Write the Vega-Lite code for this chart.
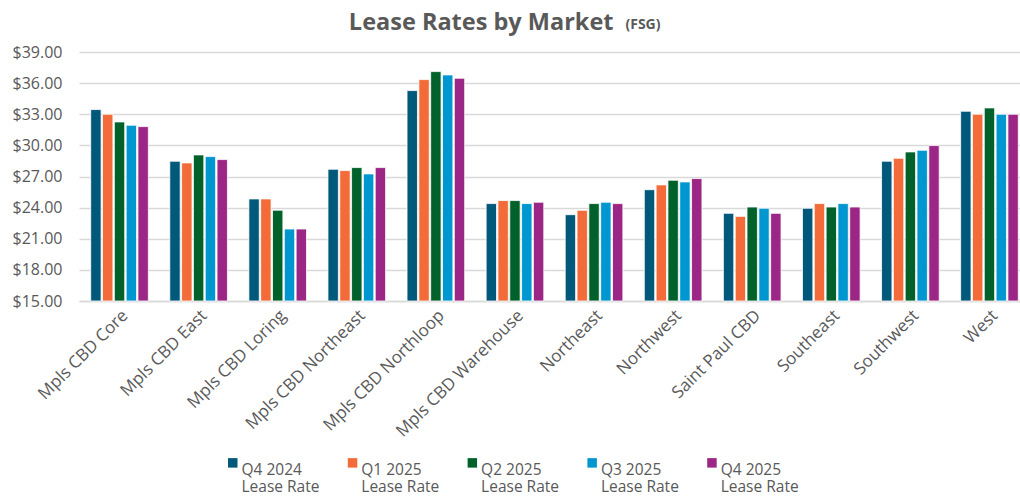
{
  "$schema": "https://vega.github.io/schema/vega-lite/v6.json",
  "padding": {"left": 12, "top": 10, "right": 0, "bottom": 0},
  "width": 951,
  "height": 249,
  "background": "white",
  "title": {
    "text": "Lease Rates by Market\u2003\u2003\u200b",
    "subtitle": "(FSG)",
    "font": "Open Sans",
    "fontSize": 23.5,
    "fontWeight": "bold",
    "color": "#595959",
    "subtitleFont": "Open Sans",
    "subtitleFontSize": 14,
    "subtitleFontWeight": "bold",
    "subtitleColor": "#595959",
    "subtitlePadding": -16,
    "anchor": "middle",
    "align": "right",
    "dx": 106,
    "offset": 10
  },
  "data": {
    "values": [
      {"market": "Mpls CBD Core", "quarter": "Q4 2024", "rate": 33.45},
      {"market": "Mpls CBD Core", "quarter": "Q1 2025", "rate": 33.0},
      {"market": "Mpls CBD Core", "quarter": "Q2 2025", "rate": 32.26},
      {"market": "Mpls CBD Core", "quarter": "Q3 2025", "rate": 31.94},
      {"market": "Mpls CBD Core", "quarter": "Q4 2025", "rate": 31.81},
      {"market": "Mpls CBD East", "quarter": "Q4 2024", "rate": 28.47},
      {"market": "Mpls CBD East", "quarter": "Q1 2025", "rate": 28.31},
      {"market": "Mpls CBD East", "quarter": "Q2 2025", "rate": 29.08},
      {"market": "Mpls CBD East", "quarter": "Q3 2025", "rate": 28.92},
      {"market": "Mpls CBD East", "quarter": "Q4 2025", "rate": 28.63},
      {"market": "Mpls CBD Loring", "quarter": "Q4 2024", "rate": 24.84},
      {"market": "Mpls CBD Loring", "quarter": "Q1 2025", "rate": 24.84},
      {"market": "Mpls CBD Loring", "quarter": "Q2 2025", "rate": 23.75},
      {"market": "Mpls CBD Loring", "quarter": "Q3 2025", "rate": 21.94},
      {"market": "Mpls CBD Loring", "quarter": "Q4 2025", "rate": 21.94},
      {"market": "Mpls CBD Northeast", "quarter": "Q4 2024", "rate": 27.7},
      {"market": "Mpls CBD Northeast", "quarter": "Q1 2025", "rate": 27.57},
      {"market": "Mpls CBD Northeast", "quarter": "Q2 2025", "rate": 27.86},
      {"market": "Mpls CBD Northeast", "quarter": "Q3 2025", "rate": 27.25},
      {"market": "Mpls CBD Northeast", "quarter": "Q4 2025", "rate": 27.86},
      {"market": "Mpls CBD Northloop", "quarter": "Q4 2024", "rate": 35.28},
      {"market": "Mpls CBD Northloop", "quarter": "Q1 2025", "rate": 36.34},
      {"market": "Mpls CBD Northloop", "quarter": "Q2 2025", "rate": 37.11},
      {"market": "Mpls CBD Northloop", "quarter": "Q3 2025", "rate": 36.79},
      {"market": "Mpls CBD Northloop", "quarter": "Q4 2025", "rate": 36.47},
      {"market": "Mpls CBD Warehouse", "quarter": "Q4 2024", "rate": 24.39},
      {"market": "Mpls CBD Warehouse", "quarter": "Q1 2025", "rate": 24.68},
      {"market": "Mpls CBD Warehouse", "quarter": "Q2 2025", "rate": 24.68},
      {"market": "Mpls CBD Warehouse", "quarter": "Q3 2025", "rate": 24.39},
      {"market": "Mpls CBD Warehouse", "quarter": "Q4 2025", "rate": 24.52},
      {"market": "Northeast", "quarter": "Q4 2024", "rate": 23.32},
      {"market": "Northeast", "quarter": "Q1 2025", "rate": 23.74},
      {"market": "Northeast", "quarter": "Q2 2025", "rate": 24.39},
      {"market": "Northeast", "quarter": "Q3 2025", "rate": 24.52},
      {"market": "Northeast", "quarter": "Q4 2025", "rate": 24.39},
      {"market": "Northwest", "quarter": "Q4 2024", "rate": 25.73},
      {"market": "Northwest", "quarter": "Q1 2025", "rate": 26.19},
      {"market": "Northwest", "quarter": "Q2 2025", "rate": 26.64},
      {"market": "Northwest", "quarter": "Q3 2025", "rate": 26.48},
      {"market": "Northwest", "quarter": "Q4 2025", "rate": 26.8},
      {"market": "Saint Paul CBD", "quarter": "Q4 2024", "rate": 23.45},
      {"market": "Saint Paul CBD", "quarter": "Q1 2025", "rate": 23.16},
      {"market": "Saint Paul CBD", "quarter": "Q2 2025", "rate": 24.06},
      {"market": "Saint Paul CBD", "quarter": "Q3 2025", "rate": 23.94},
      {"market": "Saint Paul CBD", "quarter": "Q4 2025", "rate": 23.45},
      {"market": "Southeast", "quarter": "Q4 2024", "rate": 23.94},
      {"market": "Southeast", "quarter": "Q1 2025", "rate": 24.39},
      {"market": "Southeast", "quarter": "Q2 2025", "rate": 24.06},
      {"market": "Southeast", "quarter": "Q3 2025", "rate": 24.39},
      {"market": "Southeast", "quarter": "Q4 2025", "rate": 24.06},
      {"market": "Southwest", "quarter": "Q4 2024", "rate": 28.47},
      {"market": "Southwest", "quarter": "Q1 2025", "rate": 28.76},
      {"market": "Southwest", "quarter": "Q2 2025", "rate": 29.37},
      {"market": "Southwest", "quarter": "Q3 2025", "rate": 29.53},
      {"market": "Southwest", "quarter": "Q4 2025", "rate": 29.98},
      {"market": "West", "quarter": "Q4 2024", "rate": 33.29},
      {"market": "West", "quarter": "Q1 2025", "rate": 33.0},
      {"market": "West", "quarter": "Q2 2025", "rate": 33.61},
      {"market": "West", "quarter": "Q3 2025", "rate": 33.0},
      {"market": "West", "quarter": "Q4 2025", "rate": 33.0}
    ]
  },
  "mark": {"type": "bar", "stroke": "white", "strokeWidth": 0.8},
  "encoding": {
    "x": {
      "field": "market",
      "type": "nominal",
      "sort": null,
      "title": null,
      "scale": {"paddingInner": 0.271, "paddingOuter": 0.148},
      "axis": {
        "labelAngle": -45,
        "labelAlign": "right",
        "labelBaseline": "top",
        "labelFont": "Open Sans",
        "labelFontSize": 17,
        "labelColor": "#595959",
        "labelPadding": 6,
        "ticks": false,
        "domainColor": "#d9d9d9",
        "domainWidth": 1.5,
        "labelLimit": 300
      }
    },
    "xOffset": {
      "field": "quarter",
      "type": "nominal",
      "sort": null,
      "scale": {"paddingInner": 0.12, "paddingOuter": 0}
    },
    "y": {
      "field": "rate",
      "type": "quantitative",
      "title": null,
      "scale": {"domain": [15, 39], "nice": false, "zero": false},
      "axis": {
        "values": [15, 18, 21, 24, 27, 30, 33, 36, 39],
        "format": "$.2f",
        "labelFont": "Open Sans",
        "labelFontSize": 16,
        "labelColor": "#595959",
        "labelPadding": 17,
        "ticks": false,
        "domain": false,
        "gridColor": "#d9d9d9",
        "gridWidth": 1.5
      }
    },
    "y2": {"datum": 15},
    "color": {
      "field": "quarter",
      "type": "nominal",
      "sort": null,
      "scale": {
        "domain": ["Q4 2024", "Q1 2025", "Q2 2025", "Q3 2025", "Q4 2025"],
        "range": ["#00587A", "#F26B38", "#00612B", "#0096CF", "#9C2685"]
      },
      "legend": {
        "title": null,
        "orient": "none",
        "legendX": 146,
        "legendY": 403,
        "direction": "horizontal",
        "columns": 5,
        "symbolType": "square",
        "symbolSize": 90,
        "symbolStrokeWidth": 0,
        "labelFont": "Open Sans",
        "labelFontSize": 15.5,
        "labelColor": "#595959",
        "labelExpr": "[datum.label, 'Lease Rate']",
        "labelBaseline": "top",
        "labelOffset": 1,
        "columnPadding": 24.8,
        "labelLimit": 200
      }
    }
  },
  "config": {"view": {"stroke": null}}
}
